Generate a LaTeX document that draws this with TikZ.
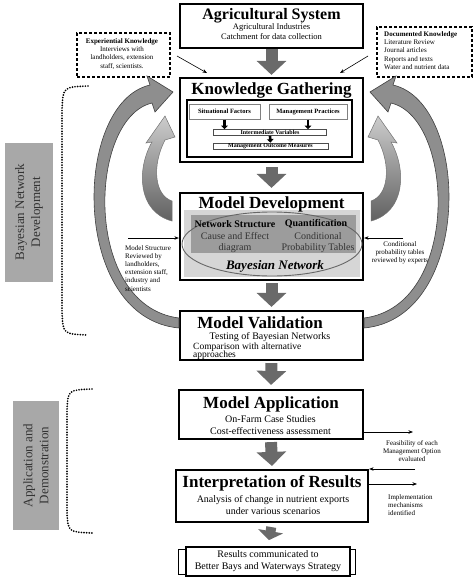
\documentclass[tikz,border=0pt]{standalone}
\usepackage{fontspec}
\setmainfont{Liberation Serif}
\usetikzlibrary{arrows.meta,shapes.geometric}
\definecolor{arrowgray}{HTML}{6A6A6A}
\definecolor{curvegray}{HTML}{8E8E8E}
\definecolor{panelgray}{HTML}{A8A8A8}
\definecolor{lightpanel}{HTML}{D6D6D6}
\definecolor{darkpanel}{HTML}{9C9C9C}

\begin{document}
\begin{tikzpicture}[x=1pt,y=-1pt,
  box/.style={draw,line width=2.2pt,fill=white},
  title/.style={font=\fontsize{17}{19}\selectfont\bfseries},
  body/.style={font=\fontsize{10}{11.5}\selectfont,align=center},
  note/.style={font=\fontsize{7}{8.2}\selectfont},
  panel/.style={fill=panelgray},
  paneltext/.style={text=black!80,font=\fontsize{13}{16}\selectfont,align=center,rotate=90},
  sidebox/.style={draw,line width=1.2pt,dash pattern=on 3pt off 2pt},
  bigarrow/.style={draw=arrowgray,line width=12pt,-{Triangle[width=29pt,length=14pt]}},
  thinarrow/.style={line width=0.6pt,-{Stealth[length=4.5pt,width=3.5pt]}},
  smallarrow/.style={line width=2.6pt,-{Triangle[width=6.5pt,length=3.5pt]}},
  dotline/.style={line width=1.9pt,dash pattern=on 0pt off 2.6pt,line cap=round},
  outercurve/.style={fill=curvegray,draw=black!75,line width=0.6pt},
  innercurve/.style={top color=black!20,bottom color=black!62,draw=black!55,line width=0.5pt}]
 	\tikzstyle{every node}+=[inner sep=0pt]
 	\useasboundingbox (0,0) rectangle (474,579);
 	\node [box,minimum width=183pt,minimum height=44pt] (ag) at (271.5,26) {};
 	\node [font=\fontsize{16}{18}\selectfont\bfseries] (agT) at (271.5,16) {Agricultural System};
 	\node [font=\fontsize{8.5}{10}\selectfont,align=center] (agS) at (271.5,32) {Agricultural Industries\\Catchment for data collection};
 	\node [sidebox,minimum width=93pt,minimum height=44pt] (exp) at (123.5,55) {};
 	\node [note,align=center] (expT) at (122,54) {\textbf{Experiential Knowledge}\\Interviews with\\landholders, extension\\staff, scientists.};
 	\node [sidebox,minimum width=95pt,minimum height=50pt] (doc) at (424.5,52) {};
 	\node [note,align=left,anchor=west] (docT) at (384,50.5) {\textbf{Documented Knowledge}\\Literature Review\\Journal articles\\Reports and texts\\Water and nutrient data};
 	\node [box,minimum width=183pt,minimum height=84pt] (kg) at (271.5,120) {};
 	\node [title] (kgT) at (271.5,90) {Knowledge Gathering};
 	\node [draw,line width=1.3pt,minimum width=165pt,minimum height=57pt] (kgin) at (269.5,128.5) {};
 	\node [draw=black!50,line width=1pt,minimum width=71pt,minimum height=15pt,font=\fontsize{6.5}{7}\selectfont\bfseries] (sf) at (224.5,111.5) {Situational Factors};
 	\node [draw=black!50,line width=1pt,minimum width=78pt,minimum height=15pt,font=\fontsize{6.5}{7}\selectfont\bfseries] (mp) at (308,111.5) {Management Practices};
 	\node [draw=black!70,line width=0.7pt,minimum width=113pt,minimum height=6pt,font=\fontsize{6}{6}\selectfont\bfseries] (iv) at (270,132.5) {Intermediate Variables};
 	\node [draw=black!70,line width=0.7pt,minimum width=115pt,minimum height=6pt,font=\fontsize{6}{6}\selectfont\bfseries] (om) at (270.5,146) {Management Outcome Measures};
 	\draw [smallarrow] (sf.south) -- (sf.south |- iv.north);
 	\draw [smallarrow] (mp.south) -- (mp.south |- iv.north);
 	\draw [smallarrow] (iv.south) -- (om.north);
 	\node [box,minimum width=183pt,minimum height=87pt] (md) at (271.5,236.5) {};
 	\node [fill=lightpanel,minimum width=176pt,minimum height=67pt] (mdbg) at (272,243.5) {};
 	\node [fill=darkpanel,minimum width=165pt,minimum height=38pt] (mdnet) at (273.5,234) {};
 	\node [ellipse,draw=black!60,line width=0.9pt,minimum width=180pt,minimum height=64pt] (bn) at (272,244) {};
 	\node [title] (mdT) at (271.5,204) {Model Development};
 	\node [font=\fontsize{10}{11}\selectfont\bfseries] (nsT) at (235,224) {Network Structure};
 	\node [font=\fontsize{10}{11}\selectfont\bfseries] (qT) at (316,224) {Quantification};
 	\node [body,text=black!80,font=\fontsize{10}{10.5}\selectfont] (ceT) at (235,242.5) {Cause and Effect\\diagram};
 	\node [body,text=black!80,font=\fontsize{10}{10.5}\selectfont] (cpT) at (318,242.5) {Conditional\\Probability Tables};
 	\node [font=\fontsize{13}{14}\selectfont\bfseries\itshape] (bnT) at (275,266) {Bayesian Network};
 	\node [box,minimum width=183pt,minimum height=49pt] (mv) at (271.5,335.5) {};
 	\node [title] (mvT) at (260,322.5) {Model Validation};
 	\node [body] (mvS1) at (270,337.5) {Testing of Bayesian Networks};
 	\node [body,font=\fontsize{9.5}{10}\selectfont,anchor=west] (mvS2) at (193,347.5) {Comparison with alternative};
 	\node [body,font=\fontsize{9.5}{10}\selectfont,anchor=west] (mvS3) at (193,355.5) {approaches};
 	\node [box,minimum width=184pt,minimum height=49pt] (ma) at (271,414.5) {};
 	\node [title] (maT) at (271,404) {Model Application};
 	\node [body] (maS) at (270.5,425) {On-Farm Case Studies\\Cost-effectiveness assessment};
 	\node [box,minimum width=192pt,minimum height=52pt] (ir) at (272,496) {};
 	\node [title] (irT) at (272,483) {Interpretation of Results};
 	\node [body] (irS) at (273,505) {Analysis of change in nutrient exports\\under various scenarios};
 	\node [draw,line width=0.6pt,minimum width=177pt,minimum height=25pt] (resO) at (266.5,561.5) {};
 	\node [box,line width=2pt,minimum width=164pt,minimum height=29pt,body,font=\fontsize{10}{12}\selectfont] (res) at (268,561.5) {Results communicated to\\Better Bays and Waterways Strategy};
 	\draw [bigarrow,shorten >=2pt] (ag.south) -- (kg.north);
 	\draw [bigarrow,shorten <=4pt,shorten >=4pt] (kg.south) -- (md.north);
 	\draw [bigarrow,shorten <=2pt,shorten >=3pt] (md.south) -- (mv.north);
 	\draw [bigarrow,shorten <=2pt,shorten >=4pt] (mv.south) -- (ma.north);
 	\draw [bigarrow,shorten <=2pt,shorten >=3pt] (ma.south) -- (ir.north);
 	\draw [draw=arrowgray,line width=10pt,-{Triangle[width=25pt,length=9pt]},shorten <=4pt,shorten >=6pt] (ir.south) -- (res.north);
 	\coordinate (expA) at (177,56);
 	\coordinate (expB) at (207,73);
 	\coordinate (docA) at (368,56);
 	\coordinate (docB) at (340,73);
 	\draw [thinarrow] (expA) -- (expB);
 	\draw [thinarrow] (docA) -- (docB);
 	\foreach \sx/\dx in {1/0,-1/543} {
 	\begin{scope}[xshift=\dx pt,xscale=\sx]
 	\filldraw [outercurve] (179,328) .. controls (70,318) and (72,103) .. (150,85) -- (147,76) -- (173,92) -- (155,112) -- (152,103) .. controls (88,118) and (82,306) .. (179,318) -- cycle;
 	\shade [innercurve] (172,221) .. controls (138,212) and (136,170) .. (152,142) -- (146,143) -- (165,116) -- (175,137) -- (165,140) .. controls (152,165) and (154,195) .. (172,201) -- cycle;
 	\end{scope}
 	}
 	\coordinate (msA) at (128,238);
 	\coordinate (cpA) at (403,238);
 	\draw [thinarrow] (msA) -- (msA -| md.west);
 	\draw [thinarrow] (cpA) -- (cpA -| md.east);
 	\node [note,align=left,anchor=north west] (msT) at (125,245) {Model Structure\\Reviewed by\\landholders,\\extension staff,\\industry and\\scientists};
 	\node [note,align=center] (cpT2) at (400,253) {Conditional\\probability tables\\reviewed by experts};
 	\coordinate (feA) at (413,432);
 	\coordinate (fbA) at (415,469);
 	\coordinate (imA) at (417,484);
 	\draw [thinarrow] (feA -| ma.east) -- (feA);
 	\draw [thinarrow] (fbA) -- (fbA -| ir.east);
 	\draw [thinarrow] (imA -| ir.east) -- (imA);
 	\node [note,align=center] (feT) at (412,451) {Feasibility of each\\Management Option\\evaluated};
 	\node [note,align=left,anchor=west] (imT) at (388,505) {Implementation\\mechanisms\\identified};
 	\node [panel,minimum width=48pt,minimum height=139pt] (bnd) at (29,212) {};
 	\node [paneltext] (bndT) at (29,212) {Bayesian Network\\Development};
 	\node [panel,minimum width=46pt,minimum height=129pt] (ad) at (36,465.5) {};
 	\node [paneltext] (adT) at (36,465.5) {Application and\\Demonstration};
 	\draw [dotline] (88,86) .. controls (63,87) .. (62,110) -- (62,312) .. controls (63,334) .. (88,335);
 	\draw [dotline] (92,389) .. controls (68,390) .. (67,410) -- (67,512) .. controls (68,532) .. (92,533);
\end{tikzpicture}
\end{document}
